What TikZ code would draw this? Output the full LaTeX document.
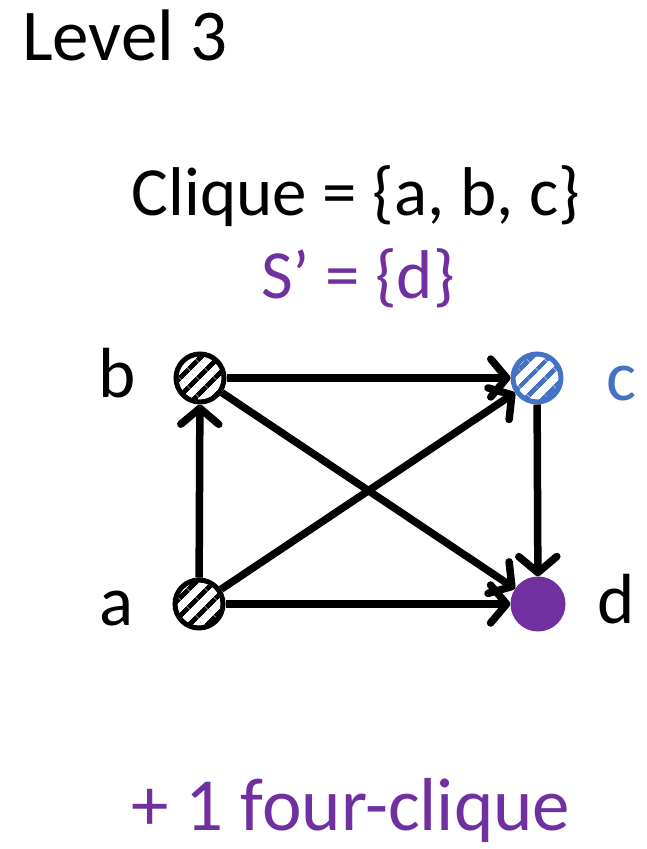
\documentclass[tikz,border=0pt]{standalone}
\usepackage{fontspec}
\setmainfont{Carlito}
\usepackage{xcolor}
\usepackage{tikz}
\usetikzlibrary{arrows.meta, positioning, patterns.meta}
\definecolor{cliqpurple}{HTML}{7030A0}
\definecolor{cliqblue}{HTML}{4472C4}
\tikzset{
  vertex/.style={circle, draw=black, line width=5pt, minimum size=48pt,
                 inner sep=0pt,
                 pattern={Lines[angle=45, distance=13pt, line width=5pt]}},
  vertexblue/.style={vertex, draw=cliqblue, pattern color=cliqblue},
  vertexfull/.style={circle, fill=cliqpurple, minimum size=55pt, inner sep=0pt},
  arrow/.style={-{Straight Barb[length=16pt, width=38pt, round]},
                line width=7.5pt, draw=black},
  bigtext/.style={inner sep=0pt, font=\fontsize{71}{84}\selectfont},
}

\begin{document}
\begin{tikzpicture}[x=1pt, y=-1pt]
  \useasboundingbox (0,0) rectangle (646,849);

  \node[bigtext, anchor=base west, font=\fontsize{73}{86}\selectfont] (title) at (22,60) {Level 3};
  \node[bigtext, anchor=base, font=\fontsize{69}{82}\selectfont] (clique) at (356,215) {Clique = \{a, b, c\}};
  \node[bigtext, anchor=base, text=cliqpurple, font=\fontsize{69}{82}\selectfont] (sprime) at (358,298) {S’ = \{d\}};

  % the four vertices
  \node[vertex] (b) at (200,378) {};
  \node[vertexblue] (c) at (537,378) {};
  \node[vertex] (a) at (199,604) {};
  \node[vertexfull] (d) at (538,604) {};

  \node[bigtext, anchor=base] (lb) at (117,397) {b};
  \node[bigtext, anchor=base, text=cliqblue] (lc) at (622,400) {c};
  \node[bigtext, anchor=base] (la) at (117,625) {a};
  \node[bigtext, anchor=base] (ld) at (616,623) {d};

  \draw[arrow] (b) -- (c);
  \draw[arrow] (a) -- (b);
  \draw[arrow] (a) -- (c);
  \draw[arrow] (a) -- (d);
  \draw[arrow] (b) -- (d);
  \draw[arrow] (c) -- (d);

  \node[bigtext, anchor=base, text=cliqpurple, font=\fontsize{75}{88}\selectfont] (result) at (351,830) {+ 1 four-clique};
\end{tikzpicture}
\end{document}
